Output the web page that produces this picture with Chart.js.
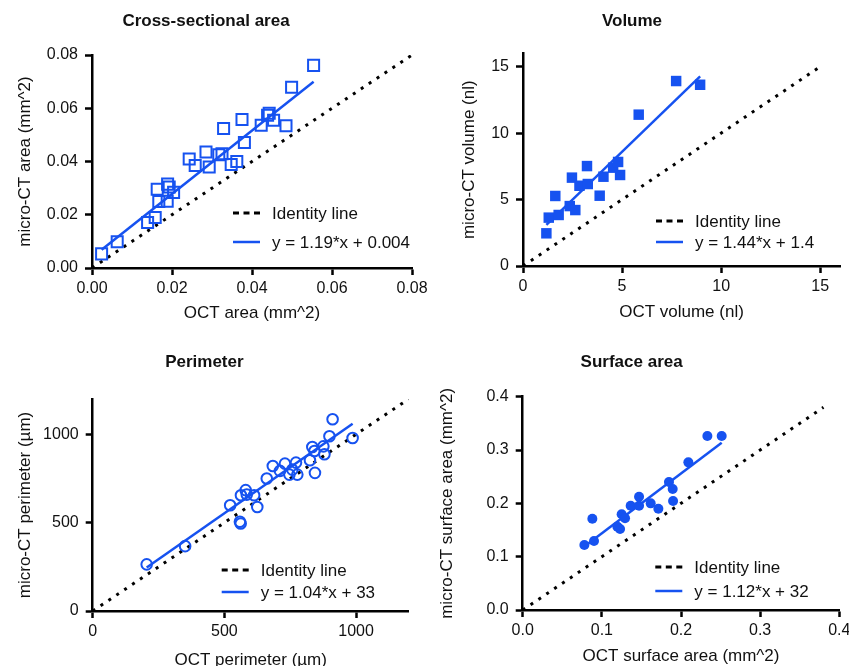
<!DOCTYPE html>
<html>
<head>
<meta charset="utf-8">
<script src="https://cdn.jsdelivr.net/npm/chart.js@4.4.1/dist/chart.umd.min.js"></script>
<style>
  body { margin: 0; background: #fff; width: 849px; height: 666px; overflow: hidden; position: relative; }
  canvas { position: absolute; }
</style>
</head>
<body>
<canvas id="c1" width="440" height="333" style="left:0;top:0"></canvas>
<canvas id="c2" width="425" height="333" style="left:424px;top:0"></canvas>
<canvas id="c3" width="440" height="345" style="left:0;top:333px"></canvas>
<canvas id="c4" width="425" height="345" style="left:424px;top:333px"></canvas>
<script>
// cross-sectional area (mm^2)
let areaOct = [0.0024, 0.0063, 0.0139, 0.0158, 0.0163, 0.0167, 0.0188, 0.0189, 0.0193, 0.0204, 0.0243, 0.0258, 0.0285, 0.0293, 0.0317, 0.0325, 0.0329, 0.0348, 0.0362, 0.0375, 0.0381, 0.0423, 0.0439, 0.0443, 0.0454, 0.0485, 0.0499, 0.0554];
let areaCt = [0.0053, 0.0099, 0.0171, 0.0190, 0.0296, 0.0250, 0.0251, 0.0315, 0.0304, 0.0284, 0.0409, 0.0385, 0.0436, 0.0379, 0.0425, 0.0429, 0.0524, 0.0389, 0.0400, 0.0558, 0.0471, 0.0536, 0.0574, 0.0581, 0.0555, 0.0534, 0.0679, 0.0761];
let areaTicks = [0, 0.02, 0.04, 0.06, 0.08];

// volume (nl)
let volumeOct = [1.18, 1.30, 1.63, 1.80, 2.36, 2.64, 2.47, 2.85, 3.23, 3.27, 3.87, 4.06, 4.55, 4.80, 4.90, 5.84, 7.73, 8.94];
let volumeCt = [2.46, 3.64, 5.27, 3.84, 4.51, 4.21, 6.65, 6.04, 7.52, 6.17, 5.29, 6.72, 7.40, 7.83, 6.85, 11.39, 13.92, 13.64];
let volumeTicks = [0, 5, 10, 15];

// perimeter (um)
let perimOct = [205, 351, 522, 559, 562, 563, 581, 585, 613, 625, 661, 684, 711, 730, 747, 758, 772, 777, 825, 834, 842, 844, 876, 880, 899, 911, 987];
let perimCt = [264, 367, 599, 505, 495, 655, 684, 659, 655, 589, 750, 821, 793, 834, 772, 800, 840, 772, 853, 928, 906, 782, 932, 887, 989, 1085, 979];
let perimTicks = [0, 500, 1000];

// surface area (mm^2)
let surfOct = [0.0779, 0.0901, 0.0880, 0.1196, 0.1230, 0.1250, 0.1293, 0.1364, 0.1470, 0.1470, 0.1617, 0.1714, 0.1848, 0.1895, 0.1900, 0.2093, 0.2333, 0.2514];
let surfCt = [0.1219, 0.1294, 0.1710, 0.1563, 0.1520, 0.1794, 0.1719, 0.1956, 0.2125, 0.1956, 0.2000, 0.1900, 0.2400, 0.2269, 0.2044, 0.2769, 0.3263, 0.3263];
let surfTicks = [0, 0.1, 0.2, 0.3, 0.4];

// regression fits and identity line ends
let fitSlope = [1.19, 1.44, 1.04, 1.12];
let fitIntercept = [0.004, 1.4, 33, 0.032];
let fitLabels = ['y = 1.19*x + 0.004', 'y = 1.44*x + 1.4', 'y = 1.04*x + 33', 'y = 1.12*x + 32'];
let identityEnd = [0.08, 15, 1200, 0.38];

const BLUE = 'rgb(22, 82, 240)';
const FONT = '"Liberation Sans", Arial, Helvetica, sans-serif';
const INK = '#111';

// legend drawn inside the plot, bottom right
const insideLegend = {
    id: 'insideLegend',
    afterDatasetsDraw(chart, args, opts) {
        let ctx = chart.ctx;
        let area = chart.chartArea;
        let x0 = area.right - opts.dx;
        ctx.save();
        ctx.font = '17px ' + FONT;
        ctx.textBaseline = 'middle';
        ctx.fillStyle = INK;
        [2, 1].forEach(function (dsIndex, i) {
            let ds = chart.data.datasets[dsIndex];
            let y = area.bottom - opts.rows[i];
            ctx.beginPath();
            ctx.strokeStyle = ds.borderColor;
            ctx.lineWidth = i === 0 ? 3 : 2.5;
            ctx.setLineDash(i === 0 ? [6, 4.5] : []);
            ctx.moveTo(x0, y);
            ctx.lineTo(x0 + 27, y);
            ctx.stroke();
            ctx.setLineDash([]);
            ctx.fillText(ds.label, x0 + 39, y + 1);
        });
        ctx.restore();
    }
};

function axis(max, ticks, dec, titleText, isX, look) {
    return {
        type: 'linear',
        min: 0,
        max: max,
        afterBuildTicks: function (scale) {
            scale.ticks = ticks.map(function (v) { return {value: v}; });
        },
        afterFit: function (scale) {
            if (isX) {
                scale.height = look.xHeight;
                scale.paddingLeft = 0;
                scale.paddingRight = 0;
            } else {
                scale.width = look.yWidth;
                scale.paddingTop = 0;
                scale.paddingBottom = 0;
            }
        },
        ticks: {
            font: {family: FONT, size: 16},
            color: INK,
            padding: isX ? 4 : 7,
            maxRotation: 0,
            autoSkip: false,
            callback: function (v) { return v.toFixed(dec); }
        },
        grid: {drawOnChartArea: false, tickLength: 7, tickWidth: 2.5, tickColor: '#000'},
        border: {color: '#000', width: 2.5},
        title: {
            display: true,
            text: titleText,
            color: INK,
            font: {family: FONT, size: 17},
            padding: isX ? {top: 0, bottom: look.xTitlePad} : {top: look.yTitlePad, bottom: 0}
        }
    };
}

function makePanel(id, n, title, xTitle, yTitle, xs, ys, max, ticks, dec, marker, look) {
    let points = xs.map(function (x, i) { return {x: x, y: ys[i]}; });
    let lo = Math.min.apply(null, xs);
    let hi = Math.max.apply(null, xs);
    let fit = [lo, hi].map(function (x) { return {x: x, y: fitSlope[n] * x + fitIntercept[n]}; });
    let ident = [0, identityEnd[n]].map(function (v) { return {x: v, y: v}; });

    let ctx = document.getElementById(id).getContext('2d');
    return new Chart(ctx, {
        type: 'scatter',
        data: {
            datasets: [{
                label: 'data',
                data: points,
                pointStyle: marker.style,
                pointRadius: marker.radius,
                borderWidth: marker.border,
                borderColor: BLUE,
                backgroundColor: marker.filled ? BLUE : 'rgba(0,0,0,0)',
                clip: false
            }, {
                label: fitLabels[n],
                data: fit,
                showLine: true,
                pointRadius: 0,
                borderColor: BLUE,
                borderWidth: 2.5
            }, {
                label: 'Identity line',
                data: ident,
                showLine: true,
                pointRadius: 0,
                borderColor: '#000',
                borderWidth: 3,
                borderDash: [3, 6.5]
            }]
        },
        options: {
            responsive: false,
            animation: false,
            devicePixelRatio: 1,
            layout: {padding: {left: 0, right: look.padRight, top: 0, bottom: 0}},
            scales: {
                x: axis(max[0], ticks, dec, xTitle, true, look),
                y: axis(max[1], ticks, dec, yTitle, false, look)
            },
            plugins: {
                legend: {display: false},
                tooltip: {enabled: false},
                title: {
                    display: true,
                    text: title,
                    color: INK,
                    font: {family: FONT, size: 17, weight: 'bold'},
                    padding: look.titlePad
                },
                insideLegend: {dx: look.legendDx, rows: look.legendRows}
            }
        },
        plugins: [insideLegend]
    });
}

makePanel('c1', 0, 'Cross-sectional area', 'OCT area (mm^2)', 'micro-CT area (mm^2)',
    areaOct, areaCt, [0.08, 0.08], areaTicks, 2,
    {style: 'rect', radius: 7.8, border: 2, filled: false},
    {padRight: 28, yWidth: 92, xHeight: 65, titlePad: {top: 11, bottom: 23.6}, yTitlePad: 14.8, xTitlePad: 9.3, legendDx: 179, legendRows: [55, 26]});

makePanel('c2', 1, 'Volume', 'OCT volume (nl)', 'micro-CT volume (nl)',
    volumeOct, volumeCt, [16, 16], volumeTicks, 0,
    {style: 'rect', radius: 7.4, border: 0, filled: true},
    {padRight: 9, yWidth: 99, xHeight: 67, titlePad: {top: 11, bottom: 22}, yTitlePad: 34.8, xTitlePad: 10.3, legendDx: 184, legendRows: [45, 24]});

makePanel('c3', 2, 'Perimeter', 'OCT perimeter (µm)', 'micro-CT perimeter (µm)',
    perimOct, perimCt, [1200, 1200], perimTicks, 0,
    {style: 'circle', radius: 5.3, border: 2, filled: false},
    {padRight: 31.3, yWidth: 92.7, xHeight: 67, titlePad: {top: 18.8, bottom: 26.8}, yTitlePad: 14.8, xTitlePad: 7.8, legendDx: 187, legendRows: [41, 19]});

makePanel('c4', 3, 'Surface area', 'OCT surface area (mm^2)', 'micro-CT surface area (mm^2)',
    surfOct, surfCt, [0.4, 0.4], surfTicks, 1,
    {style: 'circle', radius: 5, border: 0, filled: true},
    {padRight: 9.7, yWidth: 98.7, xHeight: 68, titlePad: {top: 18.8, bottom: 24.5}, yTitlePad: 12.8, xTitlePad: 11.8, legendDx: 184, legendRows: [43, 19]});
</script>
</body>
</html>
